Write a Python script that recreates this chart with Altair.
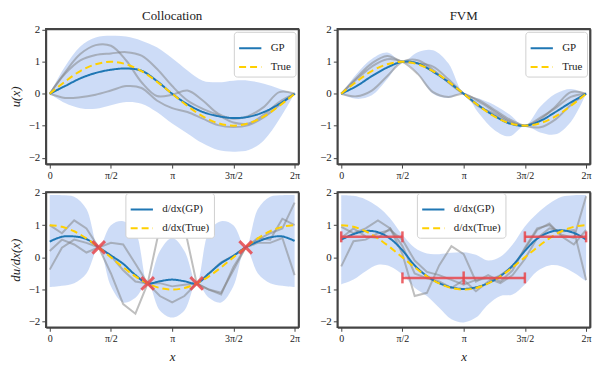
import altair as alt
import pandas as pd

# ---------------- data ----------------
X_TOP = [0, 0.393, 0.785, 1.178, 1.571, 1.963, 2.356, 2.749, 3.142, 3.534,
         3.927, 4.320, 4.712, 5.105, 5.498, 5.890, 6.283]
X_BOT = [0, 0.314, 0.628, 0.942, 1.257, 1.571, 1.885, 2.199, 2.513, 2.827,
         3.142, 3.456, 3.770, 4.084, 4.398, 4.712, 5.027, 5.341, 5.655, 5.969, 6.283]

x_tick_values = [0, 1.5708, 3.1416, 4.7124, 6.2832]
x_tick_labels = ["0", "π/2", "π", "3π/2", "2π"]
y_tick_values = [-2, -1, 0, 1, 2]

# Collocation, u(x)
tl_true = [0, .38, .71, .92, 1, .92, .71, .38, 0, -.38, -.71, -.92, -1, -.92, -.71, -.38, 0]
tl_mean = [0, 0.24, 0.48, 0.65, 0.75, 0.79, 0.72, 0.40, 0, -0.33, -0.57, -0.70, -0.76, -0.72, -0.57, -0.32, 0]
tl_upper = [0, 0.85, 1.48, 1.76, 1.81, 1.79, 1.66, 1.45, 1.11, 0.73, 0.41, 0.36, 0.41, 0.41, 0.31, 0.16, 0]
tl_lower = [0, -0.29, -0.45, -0.47, -0.36, -0.26, -0.31, -0.57, -0.93, -1.24, -1.55, -1.76, -1.81, -1.76, -1.45, -0.80, 0]
tl_g1 = [0, 0.67, 1.24, 1.52, 1.50, 1.04, 0.36, -0.07, -0.03, 0.10, -0.21, -0.62, -0.78, -0.69, -0.41, 0.05, 0]
tl_g2 = [0, 0.62, 1.04, 1.21, 1.26, 1.30, 1.19, 0.78, 0.24, -0.21, -0.47, -0.67, -0.90, -0.93, -0.65, -0.26, 0]
tl_g3 = [0, -0.13, -0.11, -0.03, 0.10, 0.24, 0.18, -0.21, -0.45, -0.57, -0.78, -0.98, -1.04, -0.98, -0.73, -0.36, 0]

# FVM, u(x)
tr_true = [0, .38, .71, .92, 1, .92, .71, .38, 0, -.38, -.71, -.92, -1, -.92, -.71, -.38, 0]
tr_mean = [0, 0.24, 0.55, 0.82, 1.0, 0.95, 0.69, 0.37, 0, -0.37, -0.69, -0.93, -1.0, -0.85, -0.57, -0.27, 0]
tr_upper = [0, 0.62, 1.09, 1.29, 1.0, 1.30, 1.36, 0.95, 0, -0.15, -0.35, -0.65, -1.0, -0.41, 0.0, 0.15, 0]
tr_lower = [0, -0.16, -0.05, 0.45, 1.0, 0.62, 0.0, -0.13, 0, -0.62, -1.13, -1.33, -1.0, -1.21, -1.27, -0.88, 0]
tr_g1 = [0, 0.45, 0.85, 1.08, 1.0, 0.62, 0.05, -0.10, 0, -0.25, -0.55, -0.85, -1.0, -0.75, -0.45, -0.10, 0]
tr_g2 = [0, 0.50, 0.95, 1.18, 1.0, 0.95, 0.85, 0.45, 0, -0.40, -0.62, -0.88, -1.0, -0.80, -0.40, 0.05, 0]
tr_g3 = [0, -0.08, 0.10, 0.55, 1.0, 1.05, 0.75, 0.35, 0, -0.20, -0.50, -0.80, -1.0, -1.05, -0.80, -0.35, 0]

# Collocation, du/dx
bl_true = [1, .95, .81, .59, .31, 0, -.31, -.59, -.81, -.95, -1, -.95, -.81, -.59, -.31, 0, .31, .59, .81, .95, 1]
bl_mean = [0.49, 0.64, 0.65, 0.57, 0.31, 0.06, -0.20, -0.55, -0.81, -0.74, -0.69, -0.74, -0.81, -0.50, -0.18, 0.05, 0.31, 0.49, 0.62, 0.65, 0.51]
bl_upper = [1.93, 1.93, 1.88, 1.50, 0.31, 1.00, 1.12, 0.80, -0.81, 0.20, 0.60, 0.20, -0.81, 0.80, 1.12, 1.00, 0.31, 1.50, 1.88, 1.93, 1.93]
bl_lower = [-0.92, -0.88, -0.80, -0.50, 0.31, -0.90, -1.40, -1.25, -0.81, -1.65, -1.87, -1.65, -0.81, -1.25, -1.40, -0.90, 0.31, -0.50, -0.80, -0.88, -0.92]
bl_g1 = [1.0, 0.75, 1.15, 0.90, 0.31, -0.50, -1.45, -1.75, -0.81, 0.95, 1.20, 0.95, -0.81, -1.00, -1.15, -0.30, 0.31, 0.55, 0.75, 0.90, 1.70]
bl_g2 = [-0.38, 0.30, 0.55, 0.45, 0.31, 0.45, 0.40, -0.20, -0.81, -1.20, -1.40, -1.20, -0.81, -0.50, -0.15, 0.05, 0.31, 0.45, 0.45, 0.60, -0.55]
bl_g3 = [0.20, 0.55, 0.40, 0.15, 0.31, 0.05, -0.40, -0.75, -0.81, -0.80, -0.90, -0.85, -0.81, -1.00, -1.10, -0.40, 0.31, 0.60, 0.55, 1.20, 1.00]
obs_x = [1.257, 2.513, 3.770, 5.027]
obs_y = [0.31, -0.81, -0.81, 0.31]

# FVM, du/dx
br_true = [1, .95, .81, .59, .31, 0, -.31, -.59, -.81, -.95, -1, -.95, -.81, -.59, -.31, 0, .31, .59, .81, .95, 1]
br_mean = [0.55, 0.72, 0.82, 0.78, 0.58, 0.22, -0.25, -0.58, -0.80, -0.93, -0.98, -0.93, -0.80, -0.58, -0.25, 0.20, 0.58, 0.78, 0.84, 0.76, 0.55]
br_upper = [1.93, 1.91, 1.80, 1.57, 1.21, 0.70, 0.30, 0.12, 0.10, 0.14, 0.16, 0.08, -0.10, 0.02, 0.40, 0.96, 1.36, 1.67, 1.88, 1.93, 1.93]
br_lower = [-0.84, -0.69, -0.43, -0.23, -0.28, -0.53, -0.94, -1.20, -1.56, -1.92, -2.02, -1.87, -1.46, -1.20, -1.15, -0.84, -0.43, -0.25, -0.28, -0.48, -0.74]
br_g1 = [0.95, 0.75, 0.90, 1.15, 0.90, 0.10, -1.20, -1.10, -0.25, 0.35, 0.10, -0.75, -0.55, -0.75, -0.40, 0.30, 0.90, 1.00, 0.70, 0.60, 1.90]
br_g2 = [-0.28, 0.50, 0.55, 0.75, 0.85, 0.55, -0.10, -0.45, -0.55, -0.70, -0.85, -0.70, -0.65, -0.80, -0.55, -0.05, 0.60, 0.90, 0.80, 0.85, -0.70]
br_g3 = [0.60, 0.90, 0.65, 0.60, 0.90, 0.35, -0.50, -0.65, -0.75, -0.95, -0.70, -1.05, -0.75, -0.55, -0.30, 0.25, 0.85, 1.05, 0.65, 0.40, 0.85]
fvm_lo = [0, 1.5708, 4.7124]
fvm_hi = [1.5708, 4.7124, 6.2832]
fvm_val = [0.637, -0.637, 0.637]
fvm_mid_x = [3.1416]
fvm_mid_y = [-0.637]

# ---------------- style ----------------
FONT = "Liberation Serif"
BLUE = "#1f77b4"
GOLD = "#FFD000"
BAND = "#6f9ae8"
RED = "#e8474c"
EDGE = "#444444"
W, H = 254, 136

label_expr = " : ".join(
    f"abs(datum.value - {v}) < 0.01 ? '{l}'" for v, l in zip(x_tick_values, x_tick_labels)
) + " : ''"


def make_scales(ydom):
    return (alt.Scale(domain=[-0.1, 6.383], nice=False, zero=False),
            alt.Scale(domain=ydom, nice=False, zero=False))


def Xn(field, xscale):
    return alt.X(field, scale=xscale, axis=None)


def Yn(field, yscale):
    return alt.Y(field, scale=yscale, axis=None)


def panel(xs, mean, true, upper, lower, grays, names, xscale, yscale,
          ytitle=None, xtitle=None, legend_pos=None, gray_interp="catmull-rom"):
    xaxis = alt.Axis(values=x_tick_values, labelExpr=label_expr, title=xtitle,
                     labelFontSize=10, titleFontStyle="italic", titlePadding=7)
    yaxis = alt.Axis(values=y_tick_values, title=ytitle, titleFontStyle="italic",
                     labelExpr="replace(datum.label, '-', '−')", titlePadding=6)

    df = pd.DataFrame({"x": xs, "upper": upper, "lower": lower})
    band = alt.Chart(df).mark_area(color=BAND, opacity=0.35, interpolate="catmull-rom", clip=True).encode(
        x=alt.X("x:Q", scale=xscale, axis=xaxis),
        y=alt.Y("lower:Q", scale=yscale, axis=yaxis), y2="upper:Q")

    # top / right frame lines, drawn as axis domains
    frame = alt.Chart(df).mark_point(opacity=0).encode(
        x=alt.X("x:Q", scale=xscale, axis=alt.Axis(orient="top", labels=False, ticks=False, title=None)),
        y=alt.Y("upper:Q", scale=yscale, axis=alt.Axis(orient="right", labels=False, ticks=False, title=None)))

    rows = []
    for i, g in enumerate(grays):
        for xv, yv in zip(xs, g):
            rows.append({"x": xv, "y": yv, "s": i})
    gdf = pd.DataFrame(rows)
    gray = alt.Chart(gdf).mark_line(color="#808080", opacity=0.5, strokeWidth=2,
                                    interpolate=gray_interp, clip=True).encode(
        x=Xn("x:Q", xscale), y=Yn("y:Q", yscale), detail="s:N")

    lrows = []
    for name, series in zip(names, [mean, true]):
        for xv, yv in zip(xs, series):
            lrows.append({"x": xv, "y": yv, "series": name})
    ldf = pd.DataFrame(lrows)
    if legend_pos is None:
        leg = dict(orient="top-right", offset=3)
    else:
        leg = dict(orient="none", legendX=legend_pos[0], legendY=legend_pos[1])
    legend_kw = dict(title=None, fillColor="white", strokeColor="#d0d0d0", cornerRadius=3,
                     padding=4, labelFont=FONT, labelFontSize=11, labelFontWeight="normal",
                     labelColor="#222", symbolType="stroke",
                     symbolSize=500, symbolStrokeWidth=2, rowPadding=1, labelOffset=8, **leg)
    lines = alt.Chart(ldf).mark_line(strokeWidth=2, interpolate="catmull-rom", clip=True).encode(
        x=Xn("x:Q", xscale), y=Yn("y:Q", yscale),
        color=alt.Color("series:N", scale=alt.Scale(domain=names, range=[BLUE, GOLD]),
                        legend=alt.Legend(**legend_kw)),
        strokeDash=alt.StrokeDash("series:N", scale=alt.Scale(domain=names, range=[[1, 0], [7, 4]]),
                                  legend=alt.Legend(**legend_kw)),
        order=alt.Order("series:N"),
    )
    return [band, frame, gray, lines]


def finish(layers, **props):
    return alt.layer(*layers).resolve_axis(x="independent", y="independent").properties(
        width=W, height=H, **props)


# top-left
xs1, ys1 = make_scales([-2.2, 2.03])
tl = finish(panel(X_TOP, tl_mean, tl_true, tl_upper, tl_lower, [tl_g1, tl_g2, tl_g3],
                  ["GP", "True"], xs1, ys1, ytitle="u(x)"), title="Collocation")

# top-right
xs2, ys2 = make_scales([-2.2, 2.03])
tr = finish(panel(X_TOP, tr_mean, tr_true, tr_upper, tr_lower, [tr_g1, tr_g2, tr_g3],
                  ["GP", "True"], xs2, ys2), title="FVM")

# bottom-left
xs3, ys3 = make_scales([-2.17, 2.03])
l3 = panel(X_BOT, bl_mean, bl_true, bl_upper, bl_lower, [bl_g1, bl_g2, bl_g3],
           ["d/dx(GP)", "d/dx(True)"], xs3, ys3, ytitle="du/dx(x)", xtitle="x",
           legend_pos=(80, 1), gray_interp="linear")
obs = alt.Chart(pd.DataFrame({"x": obs_x, "y": obs_y})).mark_point(
    shape="M-1,-1L1,1M-1,1L1,-1", filled=False, size=160, strokeWidth=3, color=RED, opacity=0.85
).encode(x=Xn("x:Q", xs3), y=Yn("y:Q", ys3))
bl = finish(l3 + [obs])

# bottom-right
xs4, ys4 = make_scales([-2.17, 2.03])
l4 = panel(X_BOT, br_mean, br_true, br_upper, br_lower, [br_g1, br_g2, br_g3],
           ["d/dx(GP)", "d/dx(True)"], xs4, ys4, xtitle="x",
           legend_pos=(80, 1), gray_interp="linear")
bars_df = pd.DataFrame({"lo": fvm_lo, "hi": fvm_hi, "y": fvm_val})
bars = alt.Chart(bars_df).mark_rule(color=RED, strokeWidth=2.5, opacity=0.85).encode(
    x=Xn("lo:Q", xs4), x2="hi:Q", y=Yn("y:Q", ys4))
caps_df = pd.DataFrame({"x": fvm_lo + fvm_hi, "y": fvm_val + fvm_val})
caps = alt.Chart(caps_df).mark_tick(orient="vertical", color=RED, size=11, thickness=2.5, opacity=0.85).encode(
    x=Xn("x:Q", xs4), y=Yn("y:Q", ys4))
mid = alt.Chart(pd.DataFrame({"x": fvm_mid_x, "y": fvm_mid_y})).mark_tick(
    orient="vertical", color=RED, size=13, thickness=2.5, opacity=0.85).encode(
    x=Xn("x:Q", xs4), y=Yn("y:Q", ys4))
br = finish(l4 + [bars, caps, mid])

res = dict(color="independent", strokeDash="independent")
top = alt.hconcat(tl, tr, spacing=18).resolve_scale(**res)
bottom = alt.hconcat(bl, br, spacing=18).resolve_scale(**res)

chart = alt.vconcat(top, bottom, spacing=5).resolve_scale(**res).properties(
    padding={"left": 0, "top": 0, "right": 0, "bottom": 0}
).configure_view(stroke=EDGE, strokeWidth=1.5).configure_axis(
    labelFont=FONT, titleFont=FONT, labelFontSize=11, titleFontSize=13,
    labelColor="#222", titleColor="#222", tickColor=EDGE, tickSize=4,
    domain=True, domainColor=EDGE, domainWidth=1.8, domainOpacity=1, zindex=5,
    grid=False, titleFontWeight="normal", labelPadding=2
).configure_axisX(domainColor=EDGE, domainWidth=1.8).configure_axisY(domainColor=EDGE, domainWidth=1.8).configure_legend(
    labelFont=FONT, labelFontWeight="normal", labelFontSize=11
).configure_title(font=FONT, fontSize=13, fontWeight="normal", color="#222", offset=1)

chart.save("out.html", embed_options={"renderer": "svg", "actions": False})
